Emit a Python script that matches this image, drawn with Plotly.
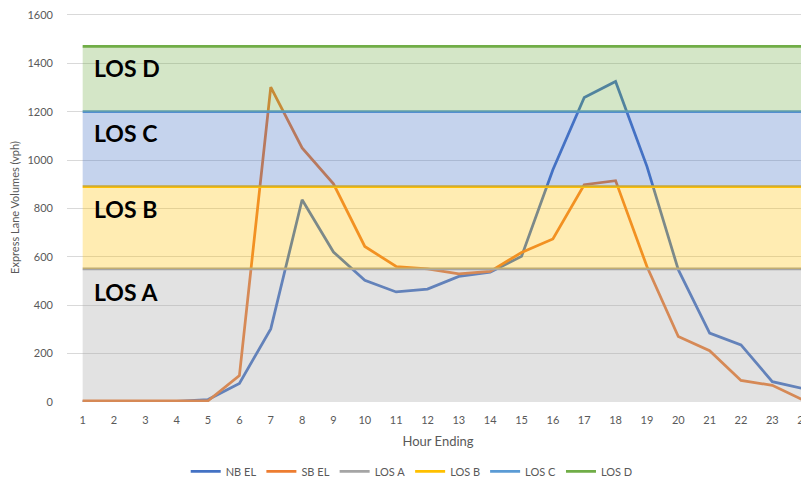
import plotly.graph_objects as go

hours = list(range(1, 25))
nb_el = [2, 2, 2, 3, 10, 77, 302, 836, 620, 503, 455, 467, 519, 537, 602, 960, 1259, 1325, 974, 547, 285, 236, 84, 55]
sb_el = [5, 5, 5, 5, 5, 109, 1302, 1050, 902, 643, 560, 550, 530, 540, 618, 674, 898, 915, 560, 271, 212, 89, 69, 7]
los_names = ["LOS A", "LOS B", "LOS C", "LOS D"]
los_tops = [550, 890, 1200, 1470]
los_line_colors = ["#A5A5A5", "#FFC000", "#5B9BD5", "#70AD47"]
los_fill_colors = ["rgba(165,165,165,0.32)", "rgba(255,192,0,0.30)",
                   "rgba(68,114,196,0.31)", "rgba(112,173,71,0.30)"]
label_y = [456, 799, 1113, 1382]
y_ticks = [0, 200, 400, 600, 800, 1000, 1200, 1400, 1600]

FONT = "Lato"
GRAY = "#595959"

fig = go.Figure()
fig.add_trace(go.Scatter(x=hours, y=nb_el, mode="lines", name="NB EL",
                         line=dict(color="#4472C4", width=2.75)))
fig.add_trace(go.Scatter(x=hours, y=sb_el, mode="lines", name="SB EL",
                         line=dict(color="#ED7D31", width=2.75)))
for name, top, col in zip(los_names, los_tops, los_line_colors):
    fig.add_trace(go.Scatter(x=hours, y=[top] * len(hours), mode="lines", name=name,
                             line=dict(color=col, width=2.75)))
# translucent bands drawn over the lines
for i, (top, fc) in enumerate(zip(los_tops, los_fill_colors)):
    fig.add_trace(go.Scatter(x=hours, y=[top] * len(hours), mode="lines",
                             line=dict(width=0, color=fc), fill="tozeroy" if i == 0 else "tonexty",
                             fillcolor=fc, showlegend=False, hoverinfo="skip"))

for name, yv in zip(los_names, label_y):
    fig.add_annotation(x=1.3, y=yv, xref="x", yref="y", text="<b>%s</b>" % name,
                       showarrow=False, xanchor="left", yanchor="middle",
                       font=dict(family=FONT, size=23, color="black"))

fig.update_layout(
    width=801, height=471,
    margin=dict(l=59, r=0, t=5, b=77),
    paper_bgcolor="white", plot_bgcolor="white",
    font=dict(family=FONT, size=11, color=GRAY),
    showlegend=True,
    legend=dict(orientation="h", xref="container", yref="container",
                x=0.504, xanchor="center", y=0.016, yanchor="middle",
                traceorder="normal",
                font=dict(family=FONT, size=11, color=GRAY), itemwidth=30,
                bgcolor="rgba(0,0,0,0)"),
)
fig.update_xaxes(range=[0.5, 24.17], tickmode="array", tickvals=hours,
                 ticktext=[str(h) for h in hours], showgrid=False, zeroline=False,
                 showline=False, ticks="", automargin=False, ticklabelstandoff=10,
                 ticklabeloverflow="allow",
                 tickfont=dict(family=FONT, size=11, color=GRAY),
                 title=dict(text="Hour Ending", standoff=11, font=dict(family=FONT, size=13, color=GRAY)))
fig.update_yaxes(range=[0, 1608], tickmode="array", tickvals=y_ticks,
                 showgrid=True, gridcolor="#D9D9D9", gridwidth=1, zeroline=False,
                 showline=False, ticks="", ticklabelstandoff=13, automargin=False,
                 ticklabeloverflow="allow",
                 tickfont=dict(family=FONT, size=11, color=GRAY),
                 title=dict(text="Express Lane Volumes (vph)", standoff=5, font=dict(family=FONT, size=11, color=GRAY)))

fig.write_html("out.html")
